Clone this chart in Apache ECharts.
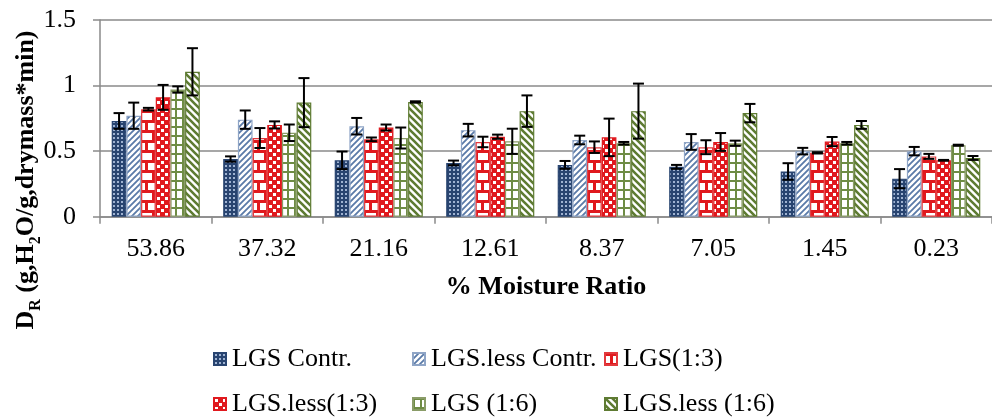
<!DOCTYPE html>
<html><head><meta charset="utf-8">
<script src="https://cdn.jsdelivr.net/npm/echarts@6/dist/echarts.min.js"></script>
<style>html,body{margin:0;padding:0;background:#fff}#c{width:992px;height:419px}</style>
</head><body><div id="c"></div>
<script>
const categories = ['53.86','37.32','21.16','12.61','8.37','7.05','1.45','0.23'];
const seriesNames = ['LGS Contr.','LGS.less Contr.','LGS(1:3)','LGS.less(1:3)','LGS (1:6)','LGS.less (1:6)'];
const yTicks = [0, 0.5, 1, 1.5];

const lgsContr        = [0.73, 0.44, 0.43, 0.41, 0.395, 0.38, 0.345, 0.29];
const lgsContrErr     = [0.06, 0.02, 0.067, 0.018, 0.03, 0.015, 0.063, 0.073];
const lgsLessContr    = [0.77, 0.74, 0.69, 0.66, 0.585, 0.57, 0.50, 0.50];
const lgsLessContrErr = [0.10, 0.07, 0.063, 0.048, 0.033, 0.06, 0.025, 0.032];
const lgs13           = [0.82, 0.60, 0.59, 0.57, 0.53, 0.53, 0.487, 0.46];
const lgs13Err        = [0.01, 0.076, 0.014, 0.04, 0.044, 0.053, 0.005, 0.019];
const lgsLess13       = [0.91, 0.70, 0.68, 0.61, 0.605, 0.57, 0.573, 0.43];
const lgsLess13Err    = [0.095, 0.027, 0.023, 0.016, 0.143, 0.068, 0.035, 0.003];
const lgs16           = [0.97, 0.64, 0.60, 0.575, 0.56, 0.56, 0.56, 0.545];
const lgs16Err        = [0.024, 0.063, 0.08, 0.096, 0.01, 0.02, 0.01, 0.004];
const lgsLess16       = [1.105, 0.87, 0.875, 0.805, 0.805, 0.79, 0.70, 0.448];
const lgsLess16Err    = [0.18, 0.187, 0.005, 0.12, 0.21, 0.07, 0.03, 0.015];

const values = [lgsContr, lgsLessContr, lgs13, lgsLess13, lgs16, lgsLess16];
const errors = [lgsContrErr, lgsLessContrErr, lgs13Err, lgsLess13Err, lgs16Err, lgsLess16Err];

function tile(w, h, draw) {
  const c = document.createElement('canvas');
  c.width = w; c.height = h;
  const g = c.getContext('2d');
  draw(g, w, h);
  return { image: c, repeat: 'repeat' };
}
const NAVY = '#284470', STEEL = '#5A7AA8', RED = '#E0191E', GREEN = '#5E7B32';
const patterns = [
  tile(4, 4, (g) => { g.fillStyle = NAVY; g.fillRect(0,0,4,4); g.fillStyle = '#9FB3D2'; g.fillRect(1,1,2,2); }),
  tile(6, 6, (g, w, h) => { g.fillStyle = '#fff'; g.fillRect(0,0,w,h); g.strokeStyle = STEEL; g.lineWidth = 1.8;
    g.beginPath(); g.moveTo(-1, h+1); g.lineTo(w+1, -1); g.moveTo(-1, 1); g.lineTo(1, -1); g.moveTo(w-1, h+1); g.lineTo(w+1, h-1); g.stroke(); }),
  tile(14, 20, (g) => { g.fillStyle = RED; g.fillRect(0,0,14,20); g.fillStyle = '#fff';
    g.fillRect(0,3,5,7); g.fillRect(8,3,6,7); g.fillRect(2,13,10,7); }),
  tile(8, 8, (g) => { g.fillStyle = RED; g.fillRect(0,0,8,8); g.fillStyle = '#fff'; g.fillRect(1,1,3,3); g.fillRect(5,5,3,3); }),
  tile(7, 9, (g) => { g.fillStyle = '#fff'; g.fillRect(0,0,7,9); g.fillStyle = '#6E8C44'; g.fillRect(0,0,7,2); g.fillRect(0,0,2,9); }),
  tile(7, 7, (g, w, h) => { g.fillStyle = '#fff'; g.fillRect(0,0,w,h); g.strokeStyle = GREEN; g.lineWidth = 2.6;
    g.beginPath(); g.moveTo(-1, -1); g.lineTo(w+1, h+1); g.moveTo(w-1, -1); g.lineTo(w+1, 1); g.moveTo(-1, h-1); g.lineTo(1, h+1); g.stroke(); })
];
const borders = ['#284470', '#8FA5C6', '#E2393D', '#E0191E', '#8A9C68', '#5E7B32'];

const FONT = 'Liberation Serif';
const GAP = 0.21;

const chart = echarts.init(document.getElementById('c'), null, { renderer: 'canvas' });

const barSeries = seriesNames.map((n, i) => ({
  name: n, type: 'bar', data: values[i],
  barGap: '0%', barCategoryGap: (GAP * 100) + '%',
  itemStyle: { color: patterns[i], borderColor: borders[i], borderWidth: 1.2 },
  emphasis: { disabled: true }
}));

const errData = [];
values.forEach((arr, s) => arr.forEach((v, k) => errData.push([k, v, errors[s][k], s])));

const errSeries = {
  type: 'custom', silent: true, z: 10,
  encode: { x: 0, y: 1 },
  data: errData,
  renderItem: function (params, api) {
    const cat = api.value(0), v = api.value(1), e = api.value(2), s = api.value(3);
    const catW = api.size([1, 0])[0];
    const groupW = catW * (1 - GAP);
    const barW = groupW / 6;
    const c = api.coord([cat, v]);
    const x = c[0] - groupW / 2 + (s + 0.5) * barW;
    const yt = api.coord([cat, v + e])[1], yb = api.coord([cat, v - e])[1];
    const hw = 5.5;
    const st = { stroke: '#000', lineWidth: 2 };
    return { type: 'group', children: [
      { type: 'line', shape: { x1: x, y1: yt, x2: x, y2: yb }, style: st },
      { type: 'line', shape: { x1: x - hw, y1: yt, x2: x + hw, y2: yt }, style: st },
      { type: 'line', shape: { x1: x - hw, y1: yb, x2: x + hw, y2: yb }, style: st }
    ]};
  }
};

const legendPos = [[213, 346], [412, 346], [604, 346], [213, 391], [412, 391], [604, 391]];
const legends = seriesNames.map((n, i) => ({
  data: [n], left: legendPos[i][0], top: legendPos[i][1], padding: 0,
  icon: 'rect', itemWidth: 12, itemHeight: 12, selectedMode: false,
  textStyle: { fontFamily: FONT, fontSize: 26, color: '#000', padding: [0, 0, 0, 1] }
}));

chart.setOption({
  animation: false,
  backgroundColor: '#fff',
  grid: { left: 100, top: 20, width: 900, height: 196.7 },
  legend: legends,
  xAxis: {
    type: 'category', data: categories,
    axisLine: { lineStyle: { color: '#8a8a8a', width: 1.5 } },
    axisTick: { show: true, length: 7, lineStyle: { color: '#8a8a8a', width: 1.5 } },
    axisLabel: { fontFamily: FONT, fontSize: 26, color: '#000', margin: 19 },
    name: '% Moisture Ratio', nameLocation: 'middle', nameGap: 58,
    nameTextStyle: { fontFamily: FONT, fontSize: 26, fontWeight: 'bold', color: '#000' }
  },
  yAxis: {
    type: 'value', min: yTicks[0], max: yTicks[yTicks.length - 1], interval: 0.5,
    axisLine: { show: true, lineStyle: { color: '#8a8a8a', width: 1.5 } },
    axisTick: { show: true, length: 7, lineStyle: { color: '#8a8a8a', width: 1.5 } },
    splitLine: { lineStyle: { color: '#8a8a8a', width: 1.5 } },
    axisLabel: { fontFamily: FONT, fontSize: 26, color: '#000', margin: 24 }
  },
  graphic: [{
    type: 'text', x: 26, y: 180, rotation: Math.PI / 2,
    style: {
      text: '{b|D}{s|R}{b| (g,H}{s|2}{b|O/g,drymass*min)}',
      align: 'center', verticalAlign: 'middle',
      rich: {
        b: { fontFamily: FONT, fontSize: 26, fontWeight: 'bold', fill: '#000', lineHeight: 36, verticalAlign: 'middle' },
        s: { fontFamily: FONT, fontSize: 16, fontWeight: 'bold', fill: '#000', lineHeight: 16, verticalAlign: 'bottom' }
      }
    }
  }],
  series: barSeries.concat([errSeries])
});
</script>
</body></html>
